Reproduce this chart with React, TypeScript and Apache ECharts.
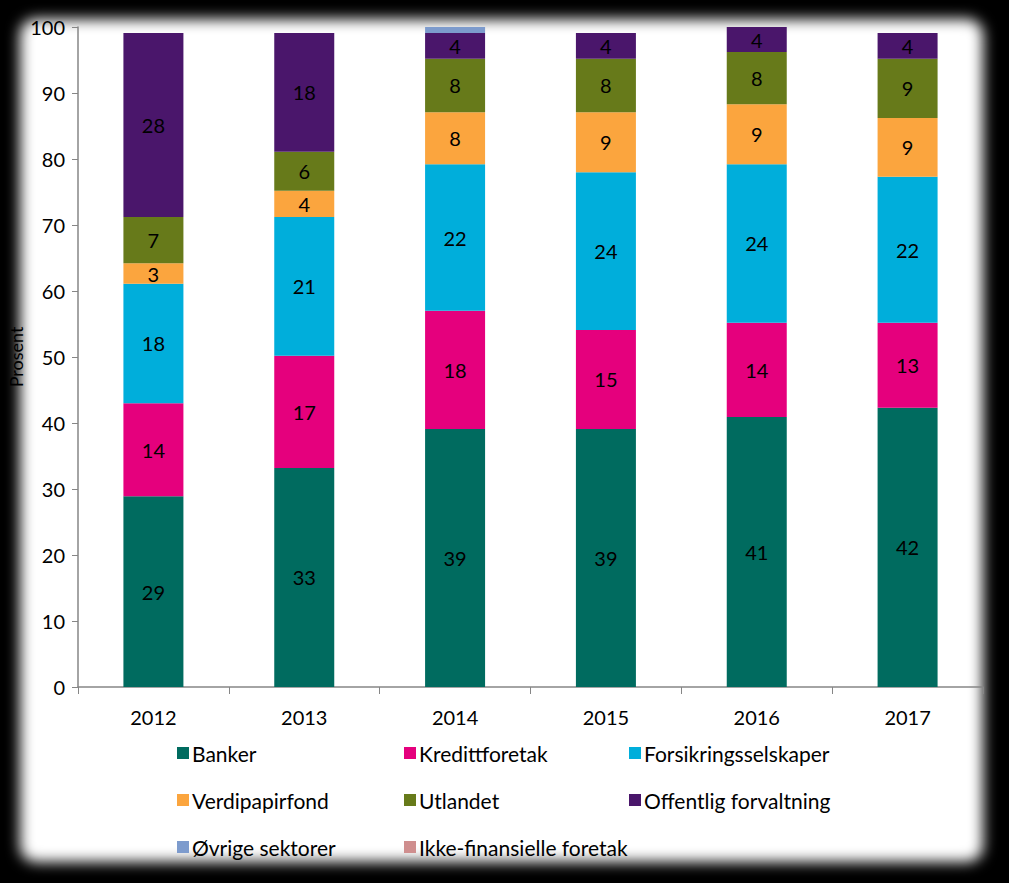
import React, { useEffect, useRef } from "react";
import * as echarts from "echarts";

const years = ["2012", "2013", "2014", "2015", "2016", "2017"];
const banker = [28.9, 33.2, 39.1, 39.1, 40.9, 42.3];
const kreditt = [14.1, 17.0, 17.9, 15.0, 14.3, 12.9];
const forsikring = [18.1, 21.0, 22.2, 23.9, 24.0, 22.1];
const verdipapir = [3.1, 4.0, 7.9, 9.1, 9.1, 8.9];
const utlandet = [7.0, 5.9, 8.1, 8.1, 7.9, 9.0];
const offentlig = [27.9, 18.0, 3.9, 3.9, 3.8, 3.9];
const ovrige = [0, 0, 1.0, 0, 0, 0];
const ikkeFin = [0, 0, 0, 0, 0, 0];
const yTicks = [0, 10, 20, 30, 40, 50, 60, 70, 80, 90, 100];

const seriesDefs = [
  { name: "Banker", data: banker, color: "#006B5F" },
  { name: "Kredittforetak", data: kreditt, color: "#E5007D" },
  { name: "Forsikringsselskaper", data: forsikring, color: "#00AEDB" },
  { name: "Verdipapirfond", data: verdipapir, color: "#FBA53E" },
  { name: "Utlandet", data: utlandet, color: "#677A1A" },
  { name: "Offentlig forvaltning", data: offentlig, color: "#4A166B" },
  { name: "Øvrige sektorer", data: ovrige, color: "#7D9BCD" },
  { name: "Ikke-finansielle foretak", data: ikkeFin, color: "#CF8E8E" },
];

const FONT = "Lato, 'Open Sans', sans-serif";

export default function App() {
  const ref = useRef<HTMLDivElement>(null);
  useEffect(() => {
    const chart = echarts.init(ref.current!, null, { renderer: "svg" });
    const legendCol = (names: string[], left: number) => ({
      orient: "vertical",
      left,
      top: 737,
      icon: "rect",
      itemWidth: 12,
      itemHeight: 12,
      itemGap: 25,
      data: names,
      textStyle: { fontFamily: FONT, fontSize: 21, color: "#000", lineHeight: 22, padding: [0, 0, 0, -2] },
      selectedMode: false,
    });
    chart.setOption({
      animation: false,
      backgroundColor: "transparent",
      textStyle: { fontFamily: FONT },
      grid: { left: 78, right: 26, top: 27, bottom: 196, containLabel: false, outerBoundsMode: "none" },
      legend: [
        legendCol(["Banker", "Verdipapirfond", "Øvrige sektorer"], 172),
        legendCol(["Kredittforetak", "Utlandet", "Ikke-finansielle foretak"], 399),
        legendCol(["Forsikringsselskaper", "Offentlig forvaltning"], 624),
      ],
      xAxis: {
        type: "category",
        data: years,
        axisLine: { lineStyle: { color: "#868686", width: 1.5 } },
        axisTick: { show: true, length: 7, lineStyle: { color: "#868686" } },
        axisLabel: { fontFamily: FONT, fontSize: 20, color: "#000", margin: 20 },
      },
      yAxis: {
        type: "value",
        min: yTicks[0],
        max: yTicks[yTicks.length - 1],
        interval: 10,
        name: "Prosent",
        nameLocation: "middle",
        nameGap: 53,
        nameMoveOverlap: false,
        nameRotate: 90,
        nameTextStyle: { fontFamily: FONT, fontSize: 18, color: "#000" },
        axisLine: { show: true, lineStyle: { color: "#868686", width: 1.5 } },
        axisTick: { show: true, length: 6, lineStyle: { color: "#868686" } },
        splitLine: { show: false },
        axisLabel: { fontFamily: FONT, fontSize: 20, color: "#000", margin: 13 },
      },
      series: seriesDefs.map((s) => ({
        name: s.name,
        type: "bar",
        stack: "total",
        barWidth: 60,
        data: s.data,
        itemStyle: { color: s.color },
        label: {
          show: true,
          position: "inside",
          fontFamily: FONT,
          fontSize: 20,
          color: "#000",
          formatter: (p: any) => (p.value >= 1.5 ? String(Math.round(p.value)) : ""),
        },
      })),
    });
    return () => chart.dispose();
  }, []);
  return (
    <div style={{ position: "absolute", left: 0, top: 0, width: 1009, height: 883, background: "#000", overflow: "hidden" }}>
      <div
        style={{
          position: "absolute",
          left: 20,
          top: 19,
          width: 963,
          height: 843,
          background: "#fff",
          borderRadius: 16,
          filter: "blur(7px)",
        }}
      />
      <div ref={ref} style={{ position: "absolute", left: 0, top: 0, width: 1009, height: 883 }} />
    </div>
  );
}
